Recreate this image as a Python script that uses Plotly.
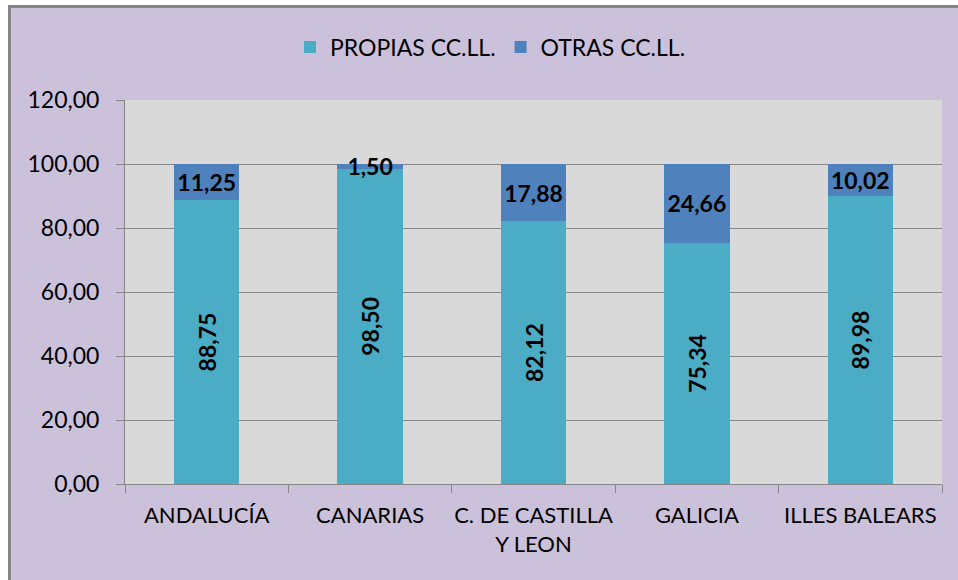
import plotly.graph_objects as go

categories = ["ANDALUCÍA", "CANARIAS", "C. DE CASTILLA<br>Y LEON", "GALICIA", "ILLES BALEARS"]
propias = [88.75, 98.50, 82.12, 75.34, 89.98]
otras = [11.25, 1.50, 17.88, 24.66, 10.02]
series_names = ["PROPIAS CC.LL.", "OTRAS CC.LL."]
y_ticks = [0, 20, 40, 60, 80, 100, 120]

def fmt(v):
    return f"{v:.2f}".replace(".", ",")

FONT = "Lato"
lab_font = dict(family=FONT, size=23, color="black", weight="bold")

fig = go.Figure()
fig.add_trace(go.Bar(
    x=categories, y=propias, name=series_names[0],
    marker=dict(color="#4bacc6", line=dict(width=0)),
    text=[fmt(v) for v in propias], textposition="inside",
    insidetextanchor="middle", textangle=-90, constraintext="none",
    textfont=lab_font, hoverinfo="skip",
))
fig.add_trace(go.Bar(
    x=categories, y=otras, name=series_names[1],
    marker=dict(color="#4f81bd", line=dict(width=0)),
    text=[fmt(v) for v in otras], textposition="inside",
    insidetextanchor="middle", textangle=0, constraintext="none",
    textfont=lab_font, hoverinfo="skip",
))

def pshape(x0, x1, y0, y1, color):
    # pixel offsets relative to paper origin (bottom-left of plot area)
    return dict(type="rect", xref="paper", yref="paper",
                xsizemode="pixel", ysizemode="pixel", xanchor=0, yanchor=0,
                x0=x0, x1=x1, y0=y0, y1=y1,
                fillcolor=color, line=dict(width=0), layer="above")

L, B = 125, 484
shapes = [
    pshape(-300 - 0, 8 - L, -200, 600, "white"),
    pshape(-300, 1000, B - 5, 600, "white"),
    pshape(8 - L, 11 - L, -200, B - 5, "#858585"),
    pshape(8 - L, 1000, B - 8, B - 5, "#858585"),
]

fig.update_layout(
    width=958, height=580,
    margin=dict(l=125, r=16, t=100, b=96, autoexpand=False),
    paper_bgcolor="#ccc1da", plot_bgcolor="#d9d9d9",
    barmode="stack", bargap=0.6,
    separators=",.",
    font=dict(family=FONT, size=23, color="black"),
    showlegend=True,
    legend=dict(orientation="h", x=0.202, xanchor="left", y=1.138, yanchor="middle",
                font=dict(family=FONT, size=23, color="black"),
                bgcolor="rgba(0,0,0,0)", traceorder="normal"),
    shapes=shapes,
)
fig.update_xaxes(
    type="category", tickson="boundaries", ticks="outside", ticklen=8,
    tickcolor="#868686", showline=True, linecolor="#868686", linewidth=1,
    showgrid=False, tickangle=0, automargin=False, ticklabelstandoff=12,
    tickfont=dict(family=FONT, size=22, color="black"),
)
fig.update_yaxes(
    range=[0, 120], tickvals=y_ticks, tickformat=".2f", ticks="outside", ticklen=8,
    tickcolor="#868686", showline=True, linecolor="#868686", linewidth=1,
    showgrid=True, gridcolor="#868686", gridwidth=1, zeroline=False, automargin=False,
    tickfont=dict(family=FONT, size=23, color="black"), ticklabelstandoff=12,
)

fig.write_html("out.html", config={"displayModeBar": False},
               post_script="document.body.style.margin='0';")
